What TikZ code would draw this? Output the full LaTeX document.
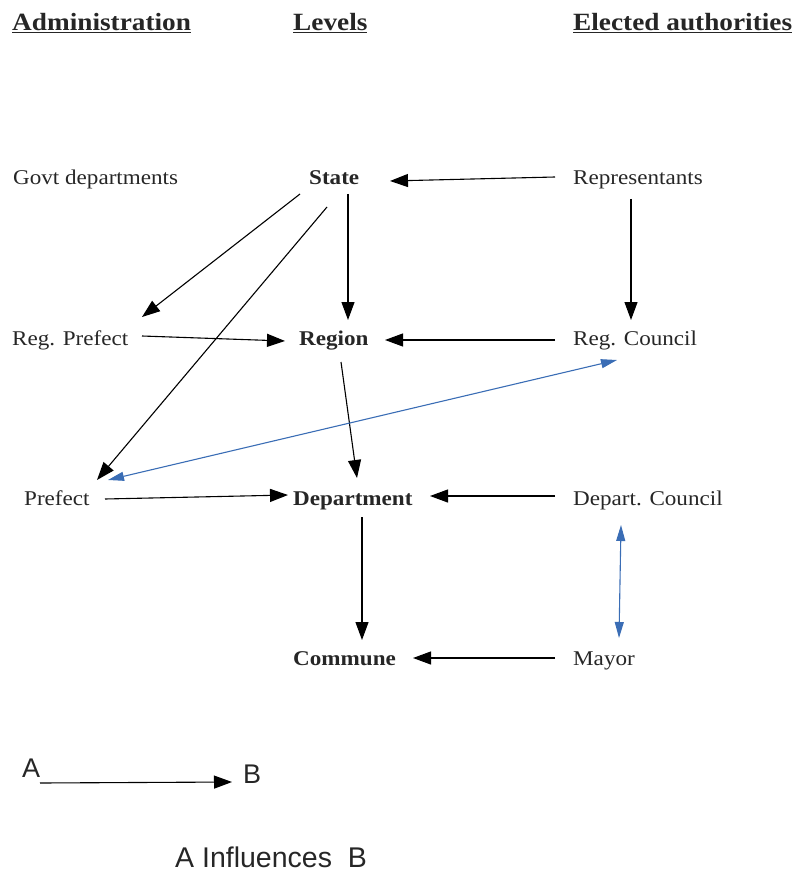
\documentclass[tikz,border=0pt]{standalone}
\usepackage{fontspec}
\setmainfont{Liberation Serif}[FakeStretch=1.1]
\newfontfamily\legendfont{Liberation Sans}
\usetikzlibrary{arrows.meta}
\definecolor{bluelink}{RGB}{58,109,181}
\tikzset{
  lbl/.style={anchor=base west, inner sep=0pt, font=\fontsize{21}{24}\selectfont, text=black!85},
  lvl/.style={lbl, font=\fontsize{21}{24}\selectfont\bfseries},
  hdr/.style={lbl, font=\fontsize{24.8}{28}\selectfont\bfseries},
  leg/.style={anchor=base west, inner sep=0pt, text=black!85},
  arr/.style={line width=1.1pt, -{Triangle[length=18pt,width=13pt]}},
  barr/.style={line width=1.1pt, bluelink, {Triangle[length=16pt,width=9pt]}-{Triangle[length=16pt,width=9pt]}}
}
\begin{document}
\begin{tikzpicture}[x=1pt,y=-1pt]
\useasboundingbox (0,0) rectangle (799,874);
% headers
\node[hdr] (hadm) at (12,31) {\underline{Administration}};
\node[hdr] (hlev) at (293,31) {\underline{Levels}};
\node[hdr] (hele) at (573,31) {\underline{Elected authorities}};
% row 1
\node[lbl] (govt) at (13,185) {Govt departments};
\node[lvl] (state) at (309,185) {State};
\node[lbl] (rep) at (573,185) {Representants};
% row 2
\node[lbl] (regpref) at (12,345) {Reg. Prefect};
\node[lvl] (region) at (299,345) {Region};
\node[lbl] (regcouncil) at (573,345) {Reg. Council};
% row 3
\node[lbl] (prefect) at (24,505) {Prefect};
\node[lvl] (dept) at (293,505) {Department};
\node[lbl] (deptcouncil) at (573,505) {Depart. Council};
% row 4
\node[lvl] (commune) at (293,665) {Commune};
\node[lbl] (mayor) at (573,665) {Mayor};
% connectors
\draw[arr] ([shift={(-18,-8)}]rep.base west) -- ([shift={(81,-4)}]state.base west);
\draw[arr] ([shift={(-9,9)}]state.base west) -- ([shift={(130,-28)}]regpref.base west);
\draw[arr] ([shift={(18,22)}]state.base west) -- ([shift={(73,-25)}]prefect.base west);
\draw[arr] ([shift={(39,9)}]state.base west) -- ([shift={(39,-25)}]state.base west |- region.base west);
\draw[arr] ([shift={(58,14)}]rep.base west) -- ([shift={(58,-25)}]regcouncil.base west);
\draw[arr] ([shift={(130,-9)}]regpref.base west) -- ([shift={(-14,-4)}]region.base west);
\draw[arr] ([shift={(-18,-5)}]regcouncil.base west) -- ([shift={(86,-5)}]region.base west);
\draw[arr] ([shift={(42,17)}]region.base west) -- ([shift={(64,-27)}]dept.base west);
\draw[barr] ([shift={(44,15)}]regcouncil.base west) -- ([shift={(84,-25)}]prefect.base west);
\draw[arr] ([shift={(81,-6)}]prefect.base west) -- ([shift={(-5,-10)}]dept.base west);
\draw[arr] ([shift={(-18,-9)}]deptcouncil.base west) -- ([shift={(137,-9)}]dept.base west);
\draw[arr] ([shift={(69,12)}]dept.base west) -- ([shift={(69,-25)}]commune.base west);
\draw[barr] ([shift={(48,20)}]deptcouncil.base west) -- ([shift={(46,-27)}]mayor.base west);
\draw[arr] ([shift={(-18,-7)}]mayor.base west) -- ([shift={(120,-7)}]commune.base west);
% legend
\node[leg, font=\legendfont\fontsize{27}{30}\selectfont] (la) at (22,777) {A};
\node[leg, font=\legendfont\fontsize{27}{30}\selectfont] (lb) at (243,783) {B};
\draw[arr] ([shift={(18,6)}]la.base west) -- ([shift={(-11,-1)}]lb.base west);
\node[leg, font=\legendfont\fontsize{28.5}{31}\selectfont] (lcap) at (175,867) {A Influences\ \ B};
\end{tikzpicture}
\end{document}
